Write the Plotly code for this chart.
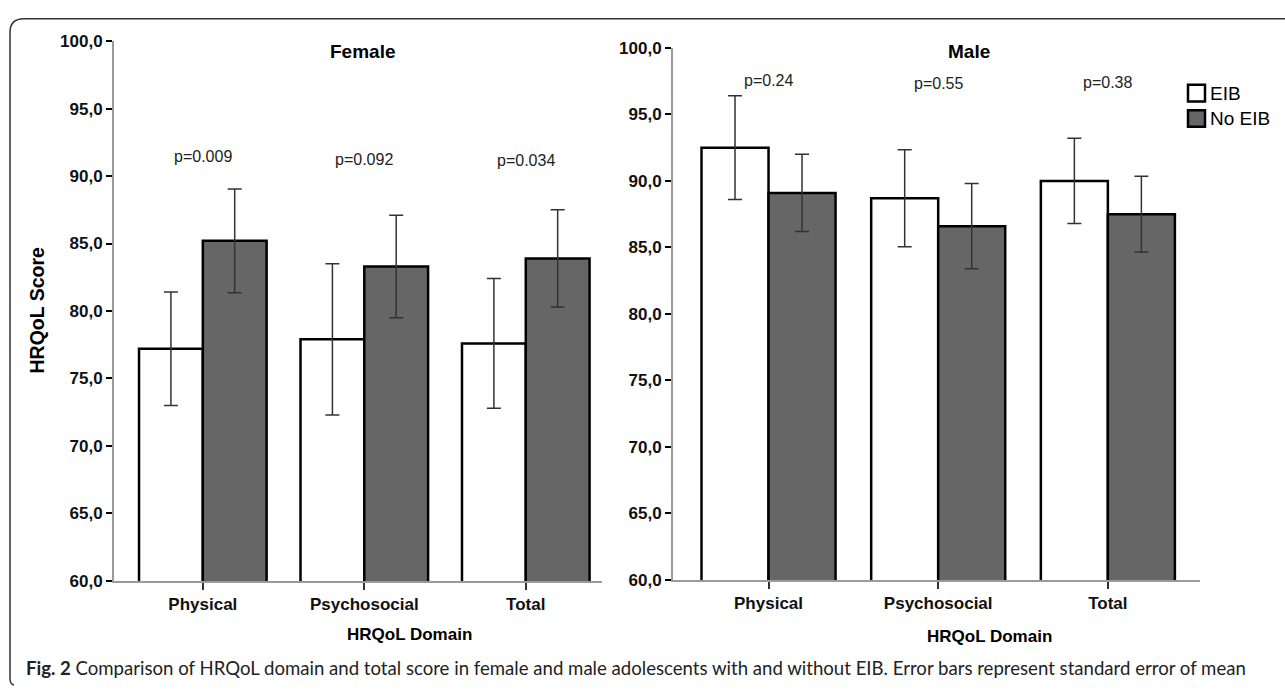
import plotly.graph_objects as go

W, H = 1285, 695

# ---------------- data ----------------
domains = ["Physical", "Psychosocial", "Total"]
series_names = ["EIB", "No EIB"]

female_eib = [77.2, 77.9, 77.6]
female_eib_se = [4.2, 5.6, 4.8]
female_noeib = [85.2, 83.3, 83.9]
female_noeib_se = [3.85, 3.8, 3.6]

male_eib = [92.5, 88.7, 90.0]
male_eib_se = [3.9, 3.65, 3.2]
male_noeib = [89.1, 86.6, 87.5]
male_noeib_se = [2.9, 3.2, 2.85]

female_p = ["p=0.009", "p=0.092", "p=0.034"]
male_p = ["p=0.24", "p=0.55", "p=0.38"]

y_tickvals = [60, 65, 70, 75, 80, 85, 90, 95, 100]
y_ticktext = ["60,0", "65,0", "70,0", "75,0", "80,0", "85,0", "90,0", "95,0", "100,0"]

caption = ("<b>Fig. 2</b> Comparison of HRQoL domain and total score in female and male "
           "adolescents with and without EIB. Error bars represent standard error of mean")

# ---------------- helpers ----------------
def px(x):
    return x / W

def py(y):
    return 1 - y / H

WHITE = "#ffffff"
GRAY = "#666666"
FONT = "Liberation Sans, Arial, sans-serif"

fig = go.Figure()

def add_bars(vals, se, color, name, xa, ya):
    fig.add_trace(go.Bar(
        x=domains, y=vals, name=name, xaxis=xa, yaxis=ya,
        marker=dict(color=color, line=dict(color="#000000", width=2.5)),
        error_y=dict(type="data", array=se, visible=True, color="#333333",
                     thickness=1.5, width=7),
        showlegend=False,
    ))

add_bars(female_eib, female_eib_se, WHITE, series_names[0], "x", "y")
add_bars(female_noeib, female_noeib_se, GRAY, series_names[1], "x", "y")
add_bars(male_eib, male_eib_se, WHITE, series_names[0], "x2", "y2")
add_bars(male_noeib, male_noeib_se, GRAY, series_names[1], "x2", "y2")

tickfont = dict(family=FONT, size=17, color="#111111", weight="bold")
catfont = dict(family=FONT, size=17, color="#111111", weight="bold")

common_x = dict(type="category", showgrid=False, zeroline=False, showline=True,
                linecolor="#9a9a9a", linewidth=2, ticks="outside", ticklen=7,
                tickcolor="#333333", tickwidth=1.5,
                tickfont=catfont)
common_y = dict(range=[60, 100], tickvals=y_tickvals, ticktext=y_ticktext,
                showgrid=False, zeroline=False, showline=True, linecolor="#9a9a9a",
                linewidth=2, ticks="outside", ticklen=6, tickcolor="#000000",
                tickwidth=1.5, tickfont=tickfont)

fig.update_layout(
    width=W, height=H,
    margin=dict(l=0, r=0, t=0, b=0),
    paper_bgcolor="white", plot_bgcolor="white",
    barmode="group", bargap=0.21, bargroupgap=0,
    xaxis=dict(domain=[px(114), px(602)], range=[-0.55, 2.472], anchor="y", **common_x),
    yaxis=dict(domain=[1 - 588 / H, 1 - 33 / H], anchor="x", **common_y),
    xaxis2=dict(domain=[px(673), px(1200)], range=[-0.563, 2.543], anchor="y2", **common_x),
    yaxis2=dict(domain=[1 - 587 / H, 1 - 40 / H], anchor="x2", **common_y),
    font=dict(family=FONT),
)

def note(text, x, y, size, xref="paper", xanchor="center", angle=0, color="#000", family=FONT):
    return dict(text=text, x=x, y=py(y), xref=xref, yref="paper", xanchor=xanchor,
                yanchor="middle", showarrow=False, textangle=angle,
                font=dict(family=family, size=size, color=color))

ann = []
# titles
ann.append(note("<b>Female</b>", px(362), 44, 19))
ann.append(note("<b>Male</b>", px(969), 44, 19))
# axis titles
ann.append(note("<b>HRQoL Domain</b>", px(410), 643, 17))
ann.append(note("<b>HRQoL Domain</b>", px(989), 645, 17))
ann.append(note("<b>HRQoL Score</b>", px(37), 310, 19.5, angle=-90))
# p-values
for d, t, yy in zip(domains, female_p, [152, 155, 156]):
    ann.append(note(t, d, yy, 16, xref="x", color="#222222"))
for d, t, yy in zip(domains, male_p, [74, 77, 76]):
    ann.append(note(t, d, yy, 16, xref="x2", color="#222222"))
# legend text
ann.append(note(series_names[0], px(1208), 87, 19, xanchor="left"))
ann.append(note(series_names[1], px(1208), 113, 19, xanchor="left"))
# caption
ann.append(note(caption, px(24), 678, 18.6, xanchor="left", color="#222222",
                family="Lato, Open Sans, sans-serif"))
fig.update_layout(annotations=ann)

# legend boxes and frame
shapes = [
    dict(type="rect", xref="paper", yref="paper", x0=px(1188), x1=px(1205), y0=py(95), y1=py(78),
         fillcolor=WHITE, line=dict(color="#000", width=2.5)),
    dict(type="rect", xref="paper", yref="paper", x0=px(1188), x1=px(1205), y0=py(121), y1=py(104),
         fillcolor=GRAY, line=dict(color="#000", width=2.5)),
]
r = 14
path = (f"M {px(W)},{py(10)} L {px(10 + r)},{py(10)} Q {px(10)},{py(10)} {px(10)},{py(10 + r)} "
        f"L {px(10)},{py(688)} Q {px(10)},{py(694)} {px(14)},{py(695)}")
shapes.append(dict(type="path", xref="paper", yref="paper", path=path,
                   line=dict(color="#333333", width=1.5)))
fig.update_layout(shapes=shapes)

fig.write_html("out.html", config={"displayModeBar": False},
               post_script="document.body.style.margin='0';document.body.style.overflow='hidden';")
